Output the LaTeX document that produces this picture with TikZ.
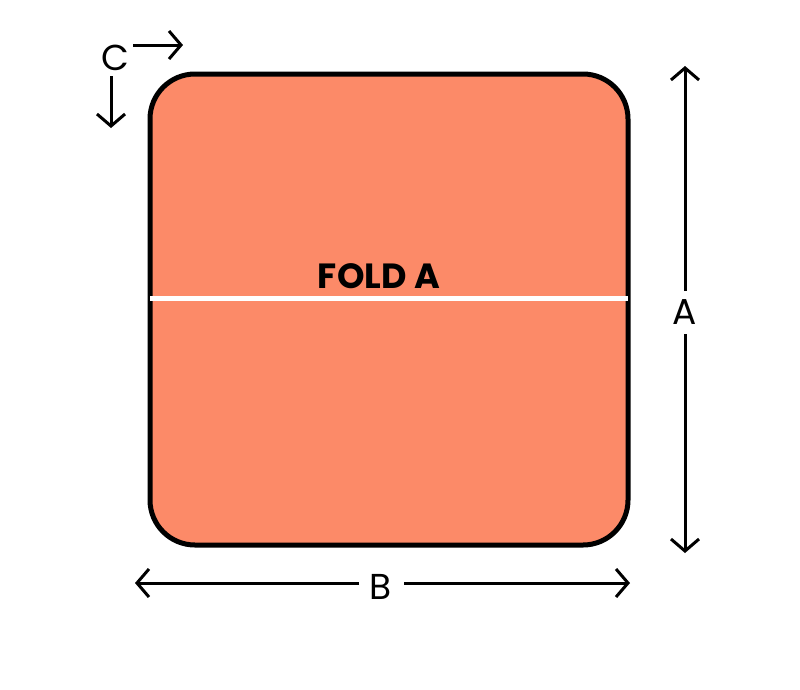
\documentclass[tikz,border=0pt]{standalone}
\usepackage{fontspec}
\setmainfont{Poppins}
\usetikzlibrary{arrows.meta}
\definecolor{salmon}{HTML}{FC8A68}
\tikzset{
  dimarrow/.style={line width=3pt, -{Straight Barb[length=12pt,width=28pt,line width=3pt]}},
  letter/.style={font=\fontsize{36}{36}\selectfont, inner sep=0pt, text=black},
}
\begin{document}
\begin{tikzpicture}[x=1pt,y=-1pt]
\useasboundingbox (0,0) rectangle (800,689);
\fill[white] (0,0) rectangle (800,689);
% sheet
\draw[line width=5pt, fill=salmon, rounded corners=45pt] (150,74) rectangle (628,545);
\draw[white, line width=5pt] (150,298) -- (628,298);
\node[font=\bfseries\fontsize{35}{35}\selectfont, inner sep=0pt] (fold) at (379,276) {FOLD A};
% dimension A
\node[letter] (la) at (685,312) {A};
\coordinate (atop) at (685,66);
\coordinate (abot) at (685,553);
\draw[dimarrow] (685,291) -- (atop);
\draw[dimarrow] (685,334) -- (abot);
% dimension B
\node[letter] (lb) at (381,587) {B};
\coordinate (bl) at (135,583);
\coordinate (br) at (630,583);
\draw[dimarrow] (359,583) -- (bl);
\draw[dimarrow] (404,583) -- (br);
% C
\node[letter] (lc) at (115,58) {C};
\coordinate (cr) at (183,45);
\coordinate (cd) at (111,128);
\draw[dimarrow] (133,45) -- (cr);
\draw[dimarrow] (111,76) -- (cd);
\end{tikzpicture}
\end{document}
